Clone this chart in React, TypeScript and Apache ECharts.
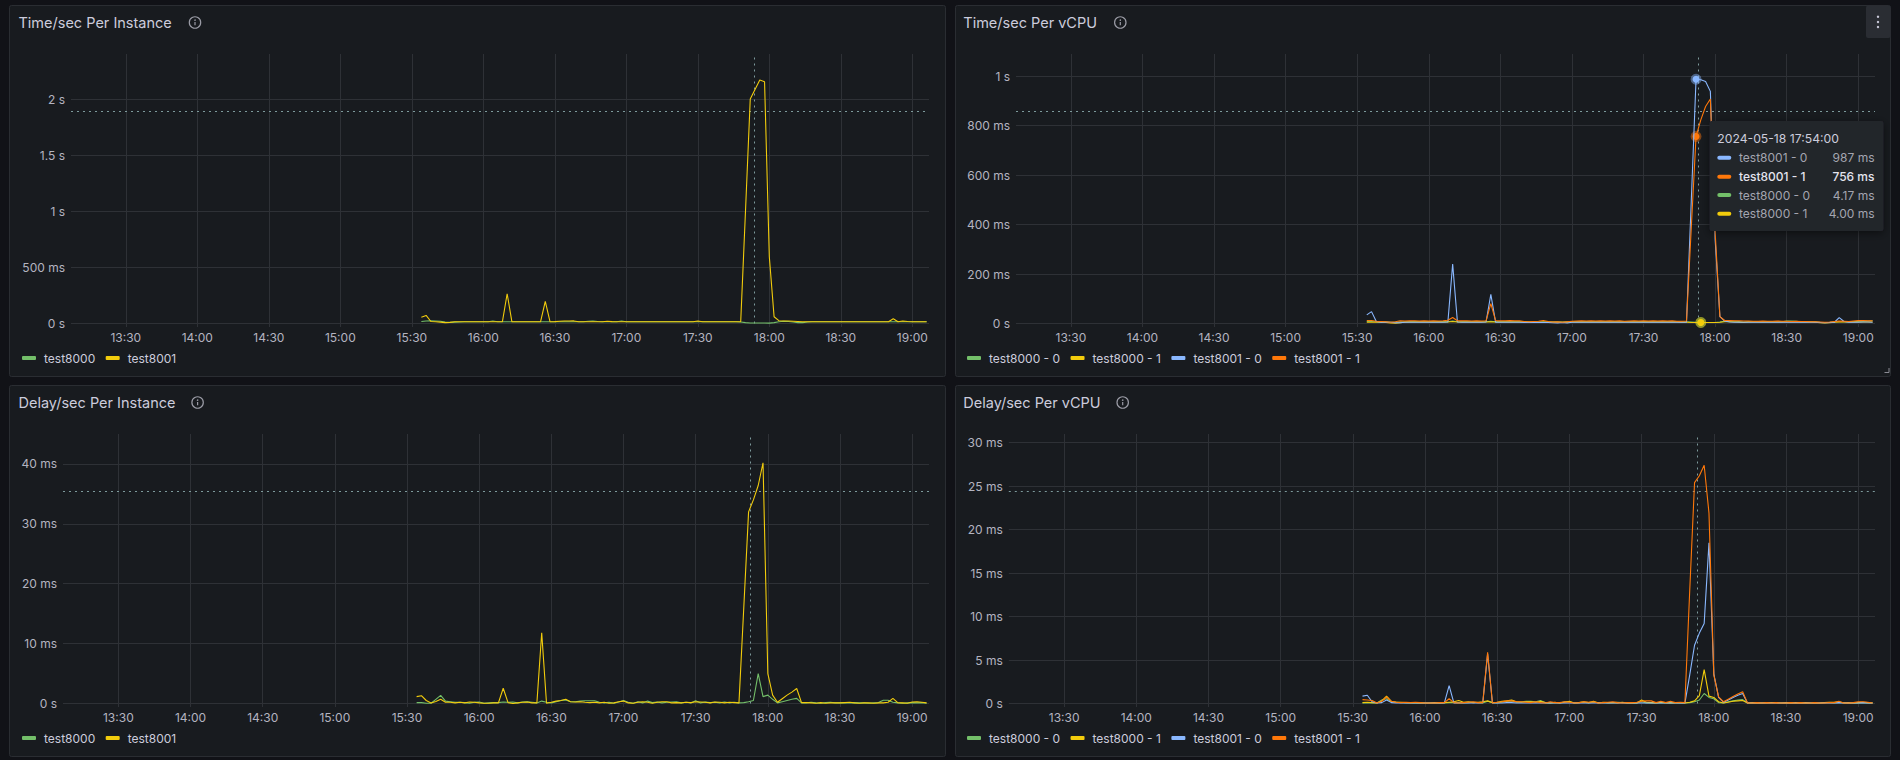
import React, { useEffect, useRef } from "react";
import * as echarts from "echarts";

const at = (h: number, m: number) => new Date(2024, 4, 18, h, 0).getTime() + m * 60000;

const xTicks = [[13,30],[14,0],[14,30],[15,0],[15,30],[16,0],[16,30],[17,0],[17,30],[18,0],[18,30],[19,0]].map(([h, m]) => at(h, m));
const startTime = at(15, 34);
const stepMs = 120000;

const p1Test8000 = [
  18,22,24,22,20,12,10,12,14,15,
  15,15,15,15,16,22,16,15,15,15,
  15,15,15,15,15,15,15,15,15,15,
  15,15,15,15,15,20,22,18,15,15,
  15,15,22,15,15,15,15,15,15,15,
  15,15,15,15,15,15,15,15,16,15,
  15,15,15,15,15,15,15,14,8,4,
  4,4,4,3,8,16,20,18,14,8,
  8,14,15,15,15,15,15,15,15,15,
  15,15,15,15,15,15,15,15,15,15,
  15,15,15,15,15,15,15];
const p1Test8001 = [
  55,72,18,15,12,8,10,15,15,15,
  15,15,15,15,15,15,15,15,265,15,
  15,15,15,15,15,15,198,15,17,20,
  22,22,23,15,15,15,15,15,15,20,
  17,15,15,15,15,15,15,15,15,15,
  15,15,15,15,15,15,15,15,22,15,
  15,15,15,15,15,15,15,15,1000,2000,
  2085,2170,2155,595,60,25,22,22,20,18,
  15,15,15,15,15,15,15,15,15,15,
  15,15,15,15,15,15,15,15,15,42,
  15,22,18,15,15,15,15];

const p2Test8000_0 = [
  8,8,7,7,7,5,5,7,7,7,
  7,7,7,7,7,8,7,7,10,7,
  7,7,7,7,7,7,9,7,7,7,
  7,7,7,8,7,7,6,7,7,7,
  7,6,7,7,7,7,7,7,7,7,
  7,7,7,7,7,7,7,7,8,7,
  7,7,7,7,7,7,7,7,6,5,
  4.17,4,4,4,6,9,10,9,8,6,
  7,7,7,7,8,7,7,7,10,10,
  9,7,7,7,7,5,4,5,7,7,
  7,7,7,9,10,10,11];
const p2Test8000_1 = [
  5,5,5,5,4,2,1,3,5,6,
  6,6,6,6,6,6,6,6,8,6,
  6,6,6,6,6,6,7,6,6,6,
  6,6,6,6,5,5,5,5,5,5,
  5,5,5,6,6,6,6,6,6,6,
  6,6,6,6,6,6,6,6,6,6,
  6,6,6,6,6,6,5,5,4,4,
  4,4,4,4,5,7,7,6,5,4,
  6,6,6,6,6,6,6,6,6,6,
  6,6,6,6,5,3,2,3,5,6,
  6,6,6,6,6,6,6];
const p2Test8001_0 = [
  35,48,8,5,5,5,3,3,5,5,
  5,5,5,5,5,5,5,6,240,6,
  5,5,5,5,5,6,118,5,5,5,
  5,5,5,4,4,4,4,4,4,3,
  2,4,2,5,5,5,5,5,5,5,
  5,5,5,5,5,5,5,5,5,5,
  5,5,5,5,5,5,5,5,495,987,
  985,978,938,340,28,10,6,5,5,5,
  5,5,5,5,5,5,5,5,5,5,
  5,5,5,5,5,4,3,4,5,24,
  8,5,5,5,6,6,5];
const p2Test8001_1 = [
  12,12,9,8,7,5,7,11,10,11,
  11,10,11,10,11,10,11,13,24,11,
  11,11,10,11,10,11,80,12,11,11,
  12,11,11,8,7,8,9,12,8,6,
  7,5,7,9,10,11,10,11,10,11,
  10,11,10,11,9,10,11,10,11,10,
  11,10,11,10,11,9,9,10,386,756,
  823,877,907,370,28,12,12,11,11,10,
  10,9,9,10,9,9,10,9,9,8,
  9,8,8,7,7,6,5,6,8,10,
  9,8,10,12,12,11,11];

const p3Test8000 = [
  .15,.15,.05,.05,.7,1.35,.4,.3,.2,.2,
  .15,.05,.2,.25,.05,.1,.15,.15,.25,.2,
  .25,.1,.25,.3,.2,.1,.4,.2,.1,.3,
  .5,.6,.3,.3,.4,.45,.45,.45,.2,.1,
  .2,.05,.25,.5,.2,.05,.3,.1,.4,.15,
  .25,.1,.2,.25,.3,.1,.2,.1,.45,.1,
  .25,.15,.2,.1,.25,.1,.2,.1,.15,.3,
  .5,5,1.15,1.4,.7,.1,.3,.5,.7,.85,
  .1,.1,.2,.1,.05,.15,.2,.1,.1,.15,
  .1,.15,.1,.1,.05,.1,.15,.55,.55,.2,
  .1,.05,.1,.15,.1,.15,.05];
const p3Test8001 = [
  1.15,1.3,.5,.1,.35,.72,.2,.2,.1,.2,
  .1,.25,.2,.1,.05,.05,.1,.1,2.55,.15,
  0,.1,.2,.25,.1,.1,11.8,.05,.2,.4,
  .5,.7,.3,.25,.3,.2,.15,.2,.1,.2,
  .05,.1,.3,.4,.1,.05,.2,.3,.2,.05,
  .2,.3,.3,.1,.15,.1,.2,.15,.3,.25,
  .2,.1,.25,.2,.1,.2,.15,.1,16,32,
  34,36.4,40.2,5,1.4,.2,.8,1.4,1.9,2.5,
  .15,.15,.1,.05,.15,.05,.1,.1,.1,.15,
  .2,.1,.05,.1,.1,.05,.1,.1,.2,.85,
  .15,.1,.05,.25,.3,.2,.1];

const p4Test8000_0 = [
  .05,.05,.05,.05,.4,.55,.2,.15,.1,.1,
  .05,.05,.1,.05,.05,.05,.1,.05,.1,.1,
  .1,.05,.1,.15,.1,.05,.25,.1,.05,.15,
  .25,.3,.15,.2,.25,.25,.2,.35,.1,.05,
  .1,.05,.2,.2,.05,.1,.15,.05,.15,.1,
  .1,.05,.1,.15,.1,.05,.1,.05,.2,.05,
  .1,.05,.1,.05,.1,.05,.1,.05,.1,.2,
  .4,1.15,.7,.55,.1,.05,.2,.3,.4,.45,
  .05,.05,.1,.05,.05,.1,.1,.05,.05,.1,
  .05,.05,.1,.05,.05,.05,.1,.1,.05,.1,
  .1,.05,.05,.05,.1,.05,.05];
const p4Test8000_1 = [
  .1,.15,.1,.05,.3,.85,.25,.15,.15,.1,
  .1,.1,.05,.05,.05,.1,.05,.1,.15,.2,
  .35,.15,.2,.1,.15,.2,.3,.1,.15,.25,
  .3,.4,.2,.15,.2,.2,.15,.25,.1,.05,
  .15,.05,.15,.25,.05,.1,.2,.1,.25,.05,
  .15,.1,.1,.05,.15,.05,.1,.05,.4,.15,
  .1,.05,.15,.1,.05,.1,.1,.05,.15,.3,
  .9,3.9,.85,.7,.2,.05,.15,.25,.3,.35,
  .05,.1,.05,.05,.1,.1,.1,.05,.1,.05,
  .1,.05,.1,.05,.05,.05,.1,.15,.15,.2,
  .05,.1,.05,.1,.15,.1,.05];
const p4Test8001_0 = [
  .85,.95,.2,.05,.1,.4,.1,.05,.05,.05,
  .05,.05,.05,.05,.05,.05,.05,.05,2.05,.05,
  .05,.05,.05,.05,.05,.1,5.7,.05,.05,.05,
  .1,.1,.05,.05,.05,.05,.05,.05,.05,.05,
  .05,.05,.05,.05,.05,.05,.05,.05,.05,.05,
  .05,.05,.05,.05,.05,.05,.05,.05,.05,.05,
  .05,.05,.05,.05,.05,.05,.05,.05,3.3,6.7,
  8.1,9.2,18.5,3.4,.7,.15,.4,.7,.95,1.15,
  .05,.05,.05,.05,.05,.05,.05,.05,.05,.05,
  .05,.05,.05,.05,.05,.05,.05,.05,.05,.1,
  .05,.05,.05,.05,.1,.05,.05];
const p4Test8001_1 = [
  .45,.4,.35,.05,.25,.75,.25,.15,.1,.15,
  .1,.15,.1,.05,.05,.05,.1,.1,.55,.1,
  .05,.1,.15,.2,.1,.1,5.9,.05,.15,.2,
  .3,.3,.2,.2,.15,.1,.2,.1,.05,.2,
  .1,.1,.2,.15,.05,.1,.2,.15,.2,.05,
  .1,.15,.2,.1,.05,.1,.1,.15,.25,.3,
  .3,.1,.25,.1,.25,.1,.15,.1,13,25.4,
  26.2,27.4,21.9,3.3,.75,.2,.5,.8,1.1,1.35,
  .05,.05,.1,.05,.1,.05,.1,.05,.05,.1,
  .05,.1,.05,.05,.1,.05,.05,.1,.1,.25,
  .05,.05,.1,.2,.2,.15,.05];

const GREEN = "#73BF69";
const YELLOW = "#F2CC0C";
const BLUE = "#8AB8FF";
const ORANGE = "#FF780A";
const TEXT = "#ccccdc";
const AXIS_TEXT = "#b4b4c0";
const GRID = "#2e3136";
const PANEL = "#181b1f";
const BORDER = "#2a2d32";
const PAGE = "#111217";
const CROSS = "#7d9a9c";
const FONT = "Inter";

const tooltipTitle = "2024-05-18 17:54:00";
const tooltipRows: [string, string, string, boolean][] = [
  ["test8001 - 0", "987 ms", BLUE, false],
  ["test8001 - 1", "756 ms", ORANGE, true],
  ["test8000 - 0", "4.17 ms", GREEN, false],
  ["test8000 - 1", "4.00 ms", YELLOW, false],
];

const hoverTime8001 = at(17, 52);
const hoverTime8000 = at(17, 54);

const times = (values: number[]) => values.map((v, i) => [startTime + i * stepMs, v]);

const halo = (hex: string) => {
  const n = parseInt(hex.slice(1), 16);
  return `rgba(${(n >> 16) & 255},${(n >> 8) & 255},${n & 255},0.45)`;
};

const fmtY = (v: number) => {
  if (v === 0) return "0 s";
  if (v >= 1000) return v / 1000 + " s";
  return v + " ms";
};
const fmtX = (v: number) => {
  const d = new Date(v);
  return String(d.getHours()).padStart(2, "0") + ":" + String(d.getMinutes()).padStart(2, "0");
};

type PanelDef = {
  title: string;
  box: [number, number, number, number];
  plot: [number, number, number];
  iconX: number;
  titleX: number;
  yMax: number;
  yInterval: number;
  crossY: number;
  crossX: number;
  legendX: number;
  series: { name: string; color: string; values: number[]; hover?: [number, number] }[];
};

const panels: PanelDef[] = [
  {
    title: "Time/sec Per Instance",
    box: [9.5, 5.5, 936, 371],
    plot: [71, 929, 54],
    iconX: 195,
    titleX: 18.5,
    yMax: 2402,
    yInterval: 500,
    crossY: 1893,
    crossX: at(17, 53.6),
    legendX: 22,
    series: [
      { name: "test8000", color: GREEN, values: p1Test8000 },
      { name: "test8001", color: YELLOW, values: p1Test8001 },
    ],
  },
  {
    title: "Time/sec Per vCPU",
    box: [955.5, 5.5, 935, 371],
    plot: [1016, 1875, 54],
    iconX: 1120.3,
    titleX: 963.3,
    yMax: 1089,
    yInterval: 200,
    crossY: 858,
    crossX: at(17, 53),
    legendX: 967,
    series: [
      { name: "test8000 - 0", color: GREEN, values: p2Test8000_0, hover: [hoverTime8000, 4.17] },
      { name: "test8000 - 1", color: YELLOW, values: p2Test8000_1, hover: [hoverTime8000, 4] },
      { name: "test8001 - 0", color: BLUE, values: p2Test8001_0, hover: [hoverTime8001, 987] },
      { name: "test8001 - 1", color: ORANGE, values: p2Test8001_1, hover: [hoverTime8001, 756] },
    ],
  },
  {
    title: "Delay/sec Per Instance",
    box: [9.5, 385.5, 936, 371],
    plot: [63, 929, 434],
    iconX: 197.6,
    titleX: 18.5,
    yMax: 45,
    yInterval: 10,
    crossY: 35.5,
    crossX: at(17, 52.9),
    legendX: 22,
    series: [
      { name: "test8000", color: GREEN, values: p3Test8000 },
      { name: "test8001", color: YELLOW, values: p3Test8001 },
    ],
  },
  {
    title: "Delay/sec Per vCPU",
    box: [955.5, 385.5, 935, 371],
    plot: [1008.8, 1875, 434],
    iconX: 1122.7,
    titleX: 963.3,
    yMax: 31,
    yInterval: 5,
    crossY: 24.46,
    crossX: at(17, 53.2),
    legendX: 967,
    series: [
      { name: "test8000 - 0", color: GREEN, values: p4Test8000_0 },
      { name: "test8000 - 1", color: YELLOW, values: p4Test8000_1 },
      { name: "test8001 - 0", color: BLUE, values: p4Test8001_0 },
      { name: "test8001 - 1", color: ORANGE, values: p4Test8001_1 },
    ],
  },
];

function infoIcon(cx: number, cy: number) {
  return [
    { type: "circle", shape: { cx, cy, r: 5.7 }, style: { fill: "none", stroke: "#9b9ca6", lineWidth: 1.2 }, silent: true },
    { type: "rect", shape: { x: cx - 0.6, y: cy - 0.6, width: 1.2, height: 3.4 }, style: { fill: "#9b9ca6" }, silent: true },
    { type: "circle", shape: { cx, cy: cy - 2.4, r: 0.8 }, style: { fill: "#9b9ca6" }, silent: true },
  ];
}

function buildGraphics() {
  const els: any[] = [];
  panels.forEach((p) => {
    const [x, y, w, h] = p.box;
    els.push({ type: "rect", z: -10, shape: { x, y, width: w, height: h, r: 2 }, style: { fill: PANEL, stroke: BORDER, lineWidth: 1 }, silent: true });
    els.push({
      type: "text",
      x: p.titleX,
      y: y + 16.7,
      style: { text: p.title, fill: TEXT, font: `400 14.5px ${FONT}`, textVerticalAlign: "middle" },
      silent: true,
    });
    els.push(...infoIcon(p.iconX, y + 17));
  });

  // panel menu button of the hovered panel
  els.push({ type: "rect", shape: { x: 1866, y: 5.5, width: 24.5, height: 32.5, r: 2 }, style: { fill: "#2a2d33" }, silent: true });
  [16.8, 22, 27].forEach((cy) =>
    els.push({ type: "circle", shape: { cx: 1878, cy, r: 1.2 }, style: { fill: TEXT }, silent: true })
  );
  // resize handle
  els.push({ type: "polyline", shape: { points: [[1889, 368], [1889, 372.5], [1884.5, 372.5]] }, style: { fill: "none", stroke: "#8a8b94", lineWidth: 1 }, silent: true });

  // hover tooltip
  const tx = 1709.5;
  const ty = 121;
  els.push({
    type: "rect",
    z: 50,
    shape: { x: tx, y: ty, width: 174, height: 110, r: 2 },
    style: { fill: "#22252b", shadowBlur: 8, shadowColor: "rgba(0,0,0,0.5)", shadowOffsetY: 2 },
    silent: true,
  });
  els.push({ type: "text", z: 51, x: 1717.3, y: 138.7, style: { text: tooltipTitle, fill: TEXT, font: `400 12.2px ${FONT}`, textVerticalAlign: "middle" }, silent: true });
  const rowY = [157.7, 176.7, 195, 213.7];
  tooltipRows.forEach(([name, value, color, bold], i) => {
    const fill = bold ? "#e4e4ee" : "#a4a5b0";
    const weight = bold ? 500 : 400;
    els.push({ type: "rect", z: 51, shape: { x: 1717.3, y: rowY[i] - 2, width: 14, height: 4, r: 2 }, style: { fill: color }, silent: true });
    els.push({ type: "text", z: 51, x: 1739, y: rowY[i], style: { text: name, fill, font: `${weight} 12px ${FONT}`, textVerticalAlign: "middle" }, silent: true });
    els.push({ type: "text", z: 51, x: 1874.5, y: rowY[i], style: { text: value, fill, font: `${weight} 12px ${FONT}`, textAlign: "right", textVerticalAlign: "middle" }, silent: true });
  });
  return els;
}

function buildOption() {
  const minX = at(13, 7);
  const maxX = at(19, 7);
  const grid: any[] = [];
  const xAxis: any[] = [];
  const yAxis: any[] = [];
  const series: any[] = [];
  const legend: any[] = [];

  panels.forEach((p, pi) => {
    const [left, right, top] = p.plot;
    grid.push({ left, top, width: right - left, height: 269.5, containLabel: false });
    xAxis.push({
      type: "value",
      gridIndex: pi,
      min: minX,
      max: maxX,
      axisLine: { show: false },
      axisTick: { show: true, length: 3.5, lineStyle: { color: GRID, width: 1 }, customValues: xTicks },
      axisLabel: { show: true, customValues: xTicks, formatter: fmtX, color: AXIS_TEXT, fontSize: 12, fontFamily: FONT, margin: 7.5, hideOverlap: false },
      splitLine: { show: true, lineStyle: { color: GRID, width: 1 } },
    });
    yAxis.push({
      type: "value",
      gridIndex: pi,
      min: 0,
      max: p.yMax,
      interval: p.yInterval,
      axisLine: { show: false },
      axisTick: { show: false },
      axisLabel: { showMaxLabel: false, formatter: fmtY, color: AXIS_TEXT, fontSize: 12, fontFamily: FONT, margin: 6 },
      splitLine: { show: true, showMaxLine: false, lineStyle: { color: GRID, width: 1 } },
    });
    p.series.forEach((s, si) => {
      const item: any = {
        type: "line",
        name: s.name,
        xAxisIndex: pi,
        yAxisIndex: pi,
        data: times(s.values),
        symbol: "none",
        showSymbol: false,
        smooth: false,
        silent: true,
        lineStyle: { color: s.color, width: 1.1 },
        itemStyle: { color: s.color },
        z: 5 + si,
      };
      if (si === 0) {
        item.markLine = {
          silent: true,
          symbol: "none",
          animation: false,
          label: { show: false },
          lineStyle: { color: CROSS, width: 1, type: [2, 4] },
          data: [{ yAxis: p.crossY }, { xAxis: p.crossX }],
        };
      }
      if (s.hover) {
        item.markPoint = {
          silent: true,
          animation: false,
          symbol: "circle",
          symbolSize: 7,
          label: { show: false },
          itemStyle: { color: s.color, borderColor: halo(s.color), borderWidth: 4 },
          data: [{ coord: s.hover }],
        };
      }
      series.push(item);
    });
    legend.push({
      left: p.legendX,
      top: p.box[1] + 346.5,
      data: p.series.map((s) => s.name),
      icon: "roundRect",
      itemWidth: 14,
      itemHeight: 4,
      itemGap: 10.5,
      selectedMode: false,
      padding: 0,
      textStyle: { color: TEXT, fontSize: 12, fontFamily: FONT, padding: [0, 0, 0, 3] },
    });
  });

  return {
    animation: false,
    backgroundColor: PAGE,
    textStyle: { fontFamily: FONT },
    grid,
    xAxis,
    yAxis,
    legend,
    series,
    graphic: { elements: buildGraphics() },
  };
}

export default function App() {
  const ref = useRef<HTMLDivElement>(null);
  useEffect(() => {
    const chart = echarts.init(ref.current!, undefined, { renderer: "svg" });
    chart.setOption(buildOption() as any);
    return () => chart.dispose();
  }, []);
  return <div ref={ref} style={{ position: "fixed", left: 0, top: 0, width: 1900, height: 760 }} />;
}
